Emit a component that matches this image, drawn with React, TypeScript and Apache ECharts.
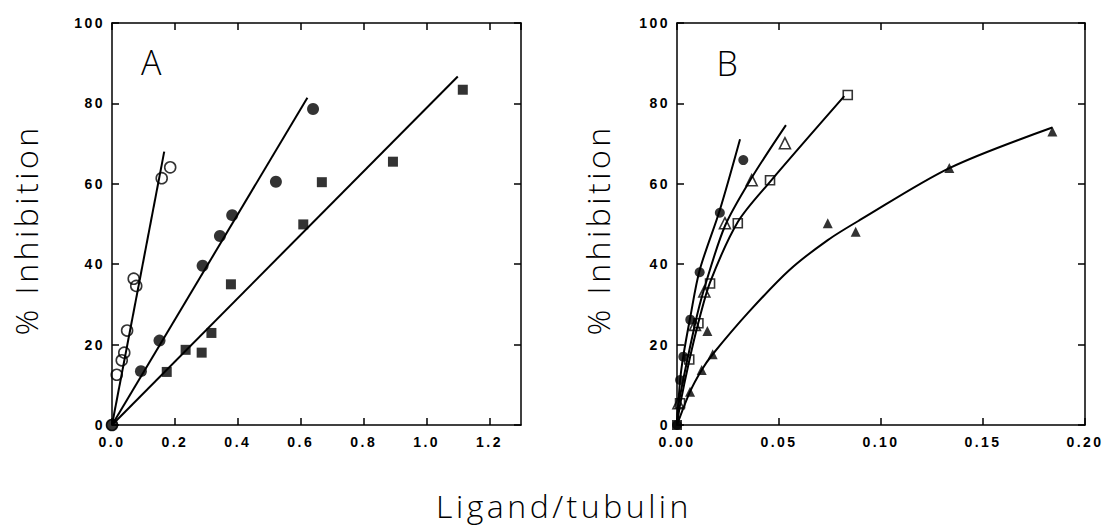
import React, { useEffect, useRef } from "react";
import * as echarts from "echarts";

// ---------- Panel A data ----------
const aOpenCircles: number[][] = [
  [0, 0], [0.015, 12.5], [0.031, 16.1], [0.039, 18], [0.048, 23.5],
  [0.069, 36.4], [0.077, 34.6], [0.158, 61.4], [0.185, 64.1],
];
const aFilledCircles: number[][] = [
  [0, 0], [0.092, 13.4], [0.151, 21], [0.288, 39.6], [0.343, 47],
  [0.382, 52.2], [0.521, 60.5], [0.639, 78.6],
];
const aSquares: number[][] = [
  [0.174, 13.2], [0.234, 18.7], [0.285, 18], [0.316, 22.9], [0.378, 35],
  [0.608, 49.9], [0.667, 60.4], [0.893, 65.5], [1.115, 83.4],
];
const aFitOpen: number[][] = [[0, 0], [0.166, 68]];
const aFitFilled: number[][] = [[0, 0], [0.621, 81.4]];
const aFitSquare: number[][] = [[0, 0], [1.099, 86.7]];

// ---------- Panel B data ----------
const bOrigin: number[][] = [[0, 0]];
const bFilledCircles: number[][] = [
  [0, 0], [0.0015, 11.2], [0.0031, 17], [0.0065, 26.2], [0.0111, 38],
  [0.021, 52.8], [0.0325, 65.9],
];
const bOpenTriangles: number[][] = [
  [0.0007, 5.4], [0.0088, 24.9], [0.0134, 33.2], [0.0235, 50.2],
  [0.0366, 60.9], [0.0529, 70.1],
];
const bOpenSquares: number[][] = [
  [0.0015, 5.4], [0.006, 16.3], [0.0105, 25.3], [0.0162, 35.2],
  [0.0298, 50.2], [0.0456, 60.9], [0.0837, 82.1],
];
const bFilledTriangles: number[][] = [
  [0.0064, 8.3], [0.0121, 13.7], [0.0175, 17.6], [0.0149, 23.4],
  [0.0739, 50.2], [0.0876, 48.1], [0.1335, 63.9], [0.184, 73],
];
const bFitCircle: number[][] = [
  [0, 0], [0.0015, 11], [0.0031, 17.2], [0.0065, 26.8], [0.0111, 38.5],
  [0.021, 53.5], [0.0309, 71.1],
];
const bFitOpenTri: number[][] = [
  [0, 0], [0.0007, 5], [0.0088, 25], [0.0134, 34], [0.0235, 49.5],
  [0.0366, 61.5], [0.0534, 74.6],
];
const bFitOpenSq: number[][] = [
  [0, 0], [0.0015, 5], [0.006, 16], [0.0105, 25.5], [0.0162, 35.5],
  [0.0298, 50.5], [0.0456, 60.5], [0.082, 81.8],
];
const bFitFilledTri: number[][] = [
  [0, 0], [0.0064, 8.3], [0.0121, 13.7], [0.0175, 17.6], [0.035, 28],
  [0.055, 38.5], [0.0739, 46], [0.0897, 51], [0.1335, 63.9], [0.184, 74],
];

const yTicks = { min: 0, max: 100, interval: 20 };
const aX = { min: 0, max: 1.3, interval: 0.2 };
const bX = { min: 0, max: 0.2, interval: 0.05 };

const yTitle = "% Inhibition";
const xTitle = "Ligand/tubulin";
const panelLabels = ["A", "B"];

const tickFont = {
  color: "#000",
  fontFamily: "Liberation Sans",
  fontWeight: "bold" as const,
  fontSize: 14,
};
const titleFont = {
  fill: "#000",
  fontFamily: "Open Sans",
  fontWeight: 300,
  fontSize: 32,
};

const axisBase = {
  type: "value" as const,
  axisLine: { show: true, onZero: false, lineStyle: { color: "#000", width: 1.5 } },
  axisTick: { show: true, inside: true, length: 7, lineStyle: { color: "#000", width: 1.5 } },
  splitLine: { show: false },
};

function lineSeries(data: number[][], xi: number, yi: number, smooth: boolean) {
  return {
    type: "line",
    xAxisIndex: xi,
    yAxisIndex: yi,
    data,
    showSymbol: false,
    symbol: "none",
    smooth: smooth ? 0.3 : false,
    lineStyle: { color: "#000", width: 2 },
    z: 2,
    silent: true,
  };
}

function markSeries(data: number[][], xi: number, yi: number, symbol: string, size: number, filled: boolean) {
  return {
    type: "scatter",
    xAxisIndex: xi,
    yAxisIndex: yi,
    data,
    symbol,
    symbolSize: size,
    itemStyle: filled
      ? { color: "#000" }
      : { color: "rgba(255,255,255,0)", borderColor: "#000", borderWidth: 1.6 },
    z: 3,
  };
}

const css = `
text[style*="Open Sans"] { letter-spacing: 3.5px; }
text[style*="Liberation Sans"] { letter-spacing: 2.5px; }
`;

export default function App() {
  const ref = useRef<HTMLDivElement>(null);
  useEffect(() => {
    if (!ref.current) return;
    const chart = echarts.init(ref.current, null, { renderer: "svg" });
    chart.setOption({
      animation: false,
      backgroundColor: "#fff",
      grid: [
        { left: 112, top: 23, width: 409, height: 402 },
        { left: 677, top: 23, width: 408, height: 402 },
      ],
      xAxis: [
        {
          ...axisBase, gridIndex: 0, position: "bottom", ...aX,
          axisLabel: { ...tickFont, margin: 10, showMaxLabel: false, formatter: (v: number) => v.toFixed(1) },
        },
        { ...axisBase, gridIndex: 0, position: "top", ...aX, axisLabel: { show: false } },
        {
          ...axisBase, gridIndex: 1, position: "bottom", ...bX,
          axisLabel: { ...tickFont, margin: 10, formatter: (v: number) => v.toFixed(2) },
        },
        { ...axisBase, gridIndex: 1, position: "top", ...bX, axisLabel: { show: false } },
      ],
      yAxis: [
        { ...axisBase, gridIndex: 0, position: "left", ...yTicks, axisLabel: { ...tickFont, margin: 7 } },
        { ...axisBase, gridIndex: 0, position: "right", ...yTicks, axisLabel: { show: false } },
        { ...axisBase, gridIndex: 1, position: "left", ...yTicks, axisLabel: { ...tickFont, margin: 7 } },
        { ...axisBase, gridIndex: 1, position: "right", ...yTicks, axisLabel: { show: false } },
      ],
      series: [
        lineSeries(aFitOpen, 0, 0, false),
        lineSeries(aFitFilled, 0, 0, false),
        lineSeries(aFitSquare, 0, 0, false),
        markSeries(aOpenCircles, 0, 0, "circle", 11, false),
        markSeries(aFilledCircles, 0, 0, "circle", 12, true),
        markSeries(aSquares, 0, 0, "rect", 10, true),

        lineSeries(bFitCircle, 2, 2, true),
        lineSeries(bFitOpenTri, 2, 2, true),
        lineSeries(bFitOpenSq, 2, 2, true),
        lineSeries(bFitFilledTri, 2, 2, true),
        markSeries(bFilledCircles, 2, 2, "circle", 10, true),
        markSeries(bOpenTriangles, 2, 2, "triangle", 11, false),
        markSeries(bOpenSquares, 2, 2, "rect", 9, false),
        markSeries(bFilledTriangles, 2, 2, "triangle", 10, true),
        markSeries(bOrigin, 2, 2, "rect", 10, true),
      ],
      graphic: [
        {
          type: "text", x: 25, y: 230, rotation: Math.PI / 2,
          style: { ...titleFont, text: yTitle, align: "center", verticalAlign: "middle" },
        },
        {
          type: "text", x: 597, y: 230, rotation: Math.PI / 2,
          style: { ...titleFont, text: yTitle, align: "center", verticalAlign: "middle" },
        },
        {
          type: "text", x: 564, y: 505,
          style: { ...titleFont, text: xTitle, align: "center", verticalAlign: "middle" },
        },
        {
          type: "text", x: 153, y: 62,
          style: { ...titleFont, fontSize: 34, text: panelLabels[0], align: "center", verticalAlign: "middle" },
        },
        {
          type: "text", x: 729, y: 63,
          style: { ...titleFont, fontSize: 34, text: panelLabels[1], align: "center", verticalAlign: "middle" },
        },
      ],
    });
    return () => chart.dispose();
  }, []);
  return (
    <>
      <style>{css}</style>
      <div
        ref={ref}
        style={{ position: "fixed", left: 0, top: 0, width: 1106, height: 525, background: "#fff" }}
      />
    </>
  );
}
